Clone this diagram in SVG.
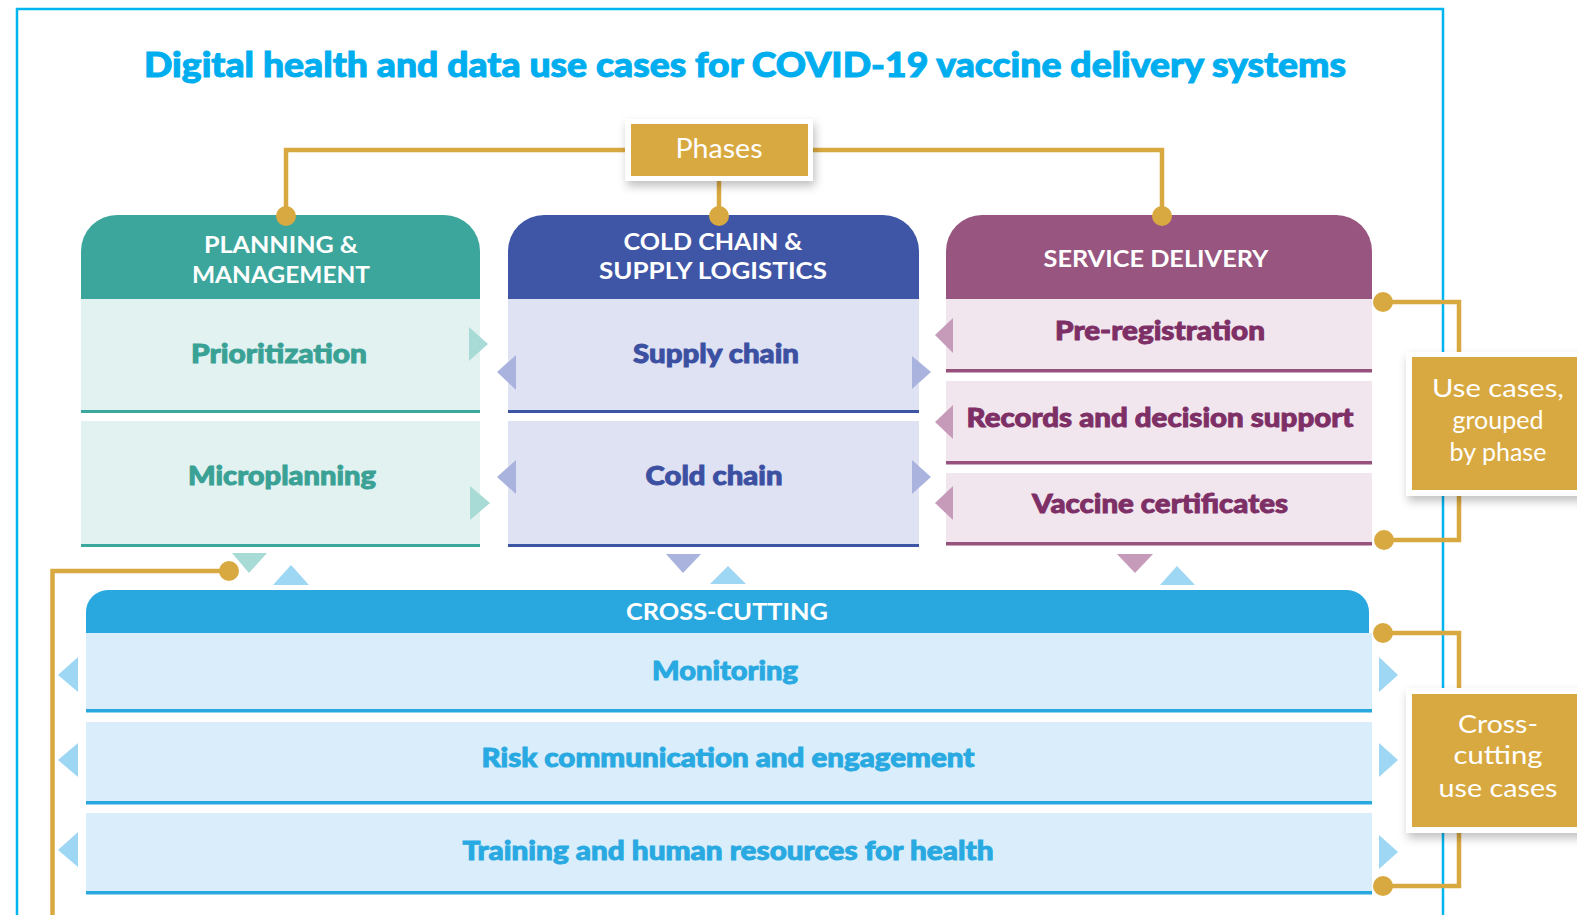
<svg xmlns="http://www.w3.org/2000/svg" width="1577" height="915" viewBox="0 0 1577 915">
  <defs>
    <filter id="shadow" x="-20%" y="-20%" width="140%" height="150%">
      <feDropShadow dx="2" dy="5" stdDeviation="5" flood-color="#000" flood-opacity="0.25"/>
    </filter>
    <style>
      text { font-family: Lato, "Noto Sans", "Liberation Sans", sans-serif; text-anchor: middle; }
      .title { font-size: 34px; font-weight: 900; fill: #00aeef; stroke: #00aeef; stroke-width: 1; }
      .hdr { font-size: 23px; font-weight: 700; fill: #ffffff; }
      .lbl { font-size: 26px; font-weight: 900; stroke-width: 0.9; }
      .box { font-size: 25px; font-weight: 400; fill: #ffffff; }
      .gold-line { fill: none; stroke: #d9a941; stroke-width: 4.5; }
      .dot { fill: #d9a941; }
      .t-teal { fill: #3aa195; stroke: #3aa195; } .t-blue { fill: #3c50a2; stroke: #3c50a2; } .t-purple { fill: #7d2f66; stroke: #7d2f66; } .t-sky { fill: #29a9e1; stroke: #29a9e1; }
      .a-teal { fill: #a8dbd5; } .a-blue { fill: #a9b3dd; } .a-purple { fill: #c69bb9; } .a-sky { fill: #9dd7f3; }
    </style>
  </defs>

  <rect width="1577" height="915" fill="#ffffff"/>
  <!-- frame -->
  <path d="M17,915 V9 H1443 V915" fill="none" stroke="#00b4f0" stroke-width="2.5"/>

  <text class="title" x="745" y="77" textLength="1202" lengthAdjust="spacingAndGlyphs">Digital health and data use cases for COVID-19 vaccine delivery systems</text>

  <!-- Planning & management -->
  <g id="planning">
    <path d="M81,299 V251 A36,36 0 0 1 117,215 H444 A36,36 0 0 1 480,251 V299 Z" fill="#3ca69c"/>
    <text class="hdr" x="281" y="253" textLength="154" lengthAdjust="spacingAndGlyphs">PLANNING &amp;</text>
    <text class="hdr" x="281" y="283" textLength="178" lengthAdjust="spacingAndGlyphs">MANAGEMENT</text>
  </g>
  <g id="prioritization">
    <rect x="81" y="299" width="399" height="111" fill="#e2f2f1"/>
    <rect x="81" y="410" width="399" height="3" fill="#3aa89c"/>
    <text class="lbl t-teal" x="279" y="363" textLength="176" lengthAdjust="spacingAndGlyphs">Prioritization</text>
  </g>
  <g id="microplanning">
    <rect x="81" y="421" width="399" height="123" fill="#e2f2f1"/>
    <rect x="81" y="544" width="399" height="3" fill="#3aa89c"/>
    <text class="lbl t-teal" x="282" y="485" textLength="188" lengthAdjust="spacingAndGlyphs">Microplanning</text>
  </g>

  <!-- Cold chain & supply logistics -->
  <g id="coldchain-header">
    <path d="M508,299 V251 A36,36 0 0 1 544,215 H883 A36,36 0 0 1 919,251 V299 Z" fill="#3f56a6"/>
    <text class="hdr" x="713" y="250" textLength="179" lengthAdjust="spacingAndGlyphs">COLD CHAIN &amp;</text>
    <text class="hdr" x="713" y="279" textLength="228" lengthAdjust="spacingAndGlyphs">SUPPLY LOGISTICS</text>
  </g>
  <g id="supply-chain">
    <rect x="508" y="299" width="411" height="111" fill="#dfe2f3"/>
    <rect x="508" y="410" width="411" height="3" fill="#3d55a5"/>
    <text class="lbl t-blue" x="716" y="363" textLength="166" lengthAdjust="spacingAndGlyphs">Supply chain</text>
  </g>
  <g id="cold-chain">
    <rect x="508" y="421" width="411" height="123" fill="#dfe2f3"/>
    <rect x="508" y="544" width="411" height="3" fill="#3d55a5"/>
    <text class="lbl t-blue" x="714" y="485" textLength="137" lengthAdjust="spacingAndGlyphs">Cold chain</text>
  </g>

  <!-- Service delivery -->
  <g id="service-header">
    <path d="M946,299 V251 A36,36 0 0 1 982,215 H1336 A36,36 0 0 1 1372,251 V299 Z" fill="#97557f"/>
    <text class="hdr" x="1156" y="267" textLength="225" lengthAdjust="spacingAndGlyphs">SERVICE DELIVERY</text>
  </g>
  <g id="pre-registration">
    <rect x="946" y="299" width="426" height="70" fill="#f1e6ee"/>
    <rect x="946" y="369" width="426" height="3.5" fill="#96527c"/>
    <text class="lbl t-purple" x="1160" y="340" textLength="210" lengthAdjust="spacingAndGlyphs">Pre-registration</text>
  </g>
  <g id="records">
    <rect x="946" y="381" width="426" height="80" fill="#f1e6ee"/>
    <rect x="946" y="461" width="426" height="3.5" fill="#96527c"/>
    <text class="lbl t-purple" x="1160" y="427" textLength="387" lengthAdjust="spacingAndGlyphs">Records and decision support</text>
  </g>
  <g id="certificates">
    <rect x="946" y="473" width="426" height="69" fill="#f1e6ee"/>
    <rect x="946" y="542" width="426" height="3.5" fill="#96527c"/>
    <text class="lbl t-purple" x="1160" y="513" textLength="256" lengthAdjust="spacingAndGlyphs">Vaccine certificates</text>
  </g>

  <!-- Cross-cutting -->
  <g id="crosscutting-header">
    <path d="M86,633 V612 A22,22 0 0 1 108,590 H1347 A22,22 0 0 1 1369,612 V633 Z" fill="#29a8e0"/>
    <text class="hdr" x="727" y="620" style="font-size:22px" textLength="202" lengthAdjust="spacingAndGlyphs">CROSS-CUTTING</text>
  </g>
  <g id="monitoring">
    <rect x="86" y="633" width="1286" height="76" fill="#d9eefa"/>
    <rect x="86" y="709" width="1286" height="3.5" fill="#29a8e0"/>
    <text class="lbl t-sky" x="725" y="680" textLength="146" lengthAdjust="spacingAndGlyphs">Monitoring</text>
  </g>
  <g id="risk-communication">
    <rect x="86" y="722" width="1286" height="79" fill="#d9eefa"/>
    <rect x="86" y="801" width="1286" height="3.5" fill="#29a8e0"/>
    <text class="lbl t-sky" x="728" y="767" textLength="493" lengthAdjust="spacingAndGlyphs">Risk communication and engagement</text>
  </g>
  <g id="training">
    <rect x="86" y="813" width="1286" height="78" fill="#d9eefa"/>
    <rect x="86" y="891" width="1286" height="3.5" fill="#29a8e0"/>
    <text class="lbl t-sky" x="728" y="860" textLength="531" lengthAdjust="spacingAndGlyphs">Training and human resources for health</text>
  </g>

  <!-- connectors -->
  <g id="connectors">
    <path class="gold-line" d="M286,216 V150 H1162 V216"/>
    <path class="gold-line" d="M719,181 V216"/>
    <circle class="dot" cx="286" cy="216" r="10"/>
    <circle class="dot" cx="719" cy="216" r="10"/>
    <circle class="dot" cx="1162" cy="216" r="10"/>
    <path class="gold-line" d="M1383,302 H1459 V540 H1384"/>
    <circle class="dot" cx="1383" cy="302" r="10"/>
    <circle class="dot" cx="1384" cy="540" r="10"/>
    <path class="gold-line" d="M1383,633 H1459 V886 H1383"/>
    <circle class="dot" cx="1383" cy="633" r="10"/>
    <circle class="dot" cx="1383" cy="886" r="10"/>
    <path class="gold-line" d="M229,571 H52.5 V915"/>
    <circle class="dot" cx="229" cy="571" r="10"/>
    <!-- small arrowheads -->
    <polygon class="a-teal" points="469,327 488,344 469,361"/>
    <polygon class="a-teal" points="470,486 490,503 470,520"/>
    <polygon class="a-blue" points="516,355 497,372 516,390"/>
    <polygon class="a-blue" points="516,460 497,477 516,494"/>
    <polygon class="a-blue" points="912,356 931,372 912,389"/>
    <polygon class="a-blue" points="912,460 931,477 912,494"/>
    <polygon class="a-purple" points="953,318 935,335 953,353"/>
    <polygon class="a-purple" points="953,405 935,422 953,439"/>
    <polygon class="a-purple" points="953,486 935,503 953,520"/>
    <polygon class="a-teal" points="232,553 267,553 249,573"/>
    <polygon class="a-blue" points="666,554 701,554 683,573"/>
    <polygon class="a-purple" points="1117,554 1153,554 1135,573"/>
    <polygon class="a-sky" points="273,585 309,585 291,565"/>
    <polygon class="a-sky" points="710,584 746,584 728,566"/>
    <polygon class="a-sky" points="1160,585 1195,585 1177,566"/>
    <polygon class="a-sky" points="78,657 58,675 78,692"/>
    <polygon class="a-sky" points="78,743 58,760 78,777"/>
    <polygon class="a-sky" points="78,832 58,850 78,867"/>
    <polygon class="a-sky" points="1379,657 1398,675 1379,692"/>
    <polygon class="a-sky" points="1379,743 1398,760 1379,777"/>
    <polygon class="a-sky" points="1379,835 1398,852 1379,869"/>
  </g>

  <!-- Phases -->
  <g id="phases">
    <rect x="625" y="119" width="188" height="62" fill="#ffffff" filter="url(#shadow)"/>
    <rect x="631" y="124" width="177" height="52" fill="#d9a941"/>
    <text x="719" y="158" style="font-size:27px;font-weight:400;fill:#fff" textLength="87" lengthAdjust="spacingAndGlyphs">Phases</text>
  </g>

  <!-- Side labels -->
  <g id="label-phase-use-cases">
    <rect x="1406" y="352" width="185" height="144" fill="#ffffff" filter="url(#shadow)"/>
    <rect x="1412" y="357" width="175" height="133" fill="#d9a941"/>
    <text class="box" x="1498" y="397" textLength="132" lengthAdjust="spacingAndGlyphs">Use cases,</text>
    <text class="box" x="1498" y="429">grouped</text>
    <text class="box" x="1498" y="461">by phase</text>
  </g>
  <g id="label-crosscutting-use-cases">
    <rect x="1406" y="688" width="185" height="145" fill="#ffffff" filter="url(#shadow)"/>
    <rect x="1412" y="694" width="175" height="133" fill="#d9a941"/>
    <text class="box" x="1498" y="733" textLength="80" lengthAdjust="spacingAndGlyphs">Cross-</text>
    <text class="box" x="1498" y="764" textLength="89" lengthAdjust="spacingAndGlyphs">cutting</text>
    <text class="box" x="1498" y="797" textLength="119" lengthAdjust="spacingAndGlyphs">use cases</text>
  </g>
</svg>
